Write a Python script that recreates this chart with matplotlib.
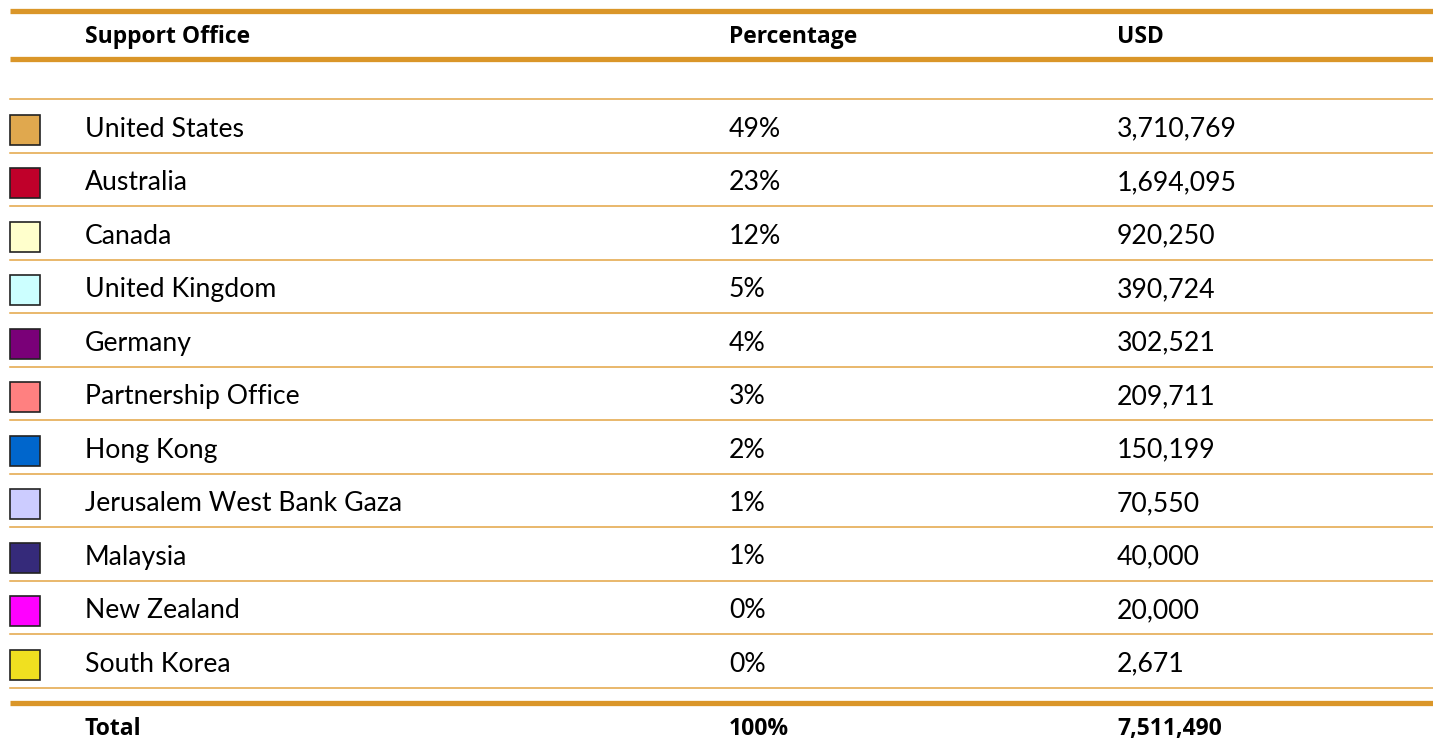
import matplotlib
matplotlib.use("Agg")
import matplotlib.pyplot as plt
from matplotlib.patches import Rectangle

plt.rcParams["font.family"] = ["Lato", "DejaVu Sans"]

# ------------------------------------------------------------------ data
offices = ["United States", "Australia", "Canada", "United Kingdom", "Germany",
           "Partnership Office", "Hong Kong", "Jerusalem West Bank Gaza",
           "Malaysia", "New Zealand", "South Korea"]
percentages = ["49%", "23%", "12%", "5%", "4%", "3%", "2%", "1%", "1%", "0%", "0%"]
usd = [3710769, 1694095, 920250, 390724, 302521, 209711, 150199, 70550,
       40000, 20000, 2671]
swatch_colors = ["#E0A84E", "#C0002A", "#FFFFCC", "#CCFFFF", "#7A0078",
                 "#FF8080", "#0066CC", "#CCCCFF", "#352A7A", "#FF00FF", "#F0E020"]
headers = ["Support Office", "Percentage", "USD"]
total_pct = "100%"
total_usd = 7511490

# ---------------------------------------------------------------- layout (px)
W, H = 1433, 748
col_x = [85, 729, 1117]
first_row_y = 129
row_h = 53.5
line_col = "#DA9629"
thin_col = "#E3A444"
body_fs = 19.2
head_fs = 16.5
head_font = ["Open Sans", "DejaVu Sans"]

fig = plt.figure(figsize=(W / 100, H / 100), dpi=100)
ax = fig.add_axes([0, 0, 1, 1])
ax.set_xlim(0, W)
ax.set_ylim(H, 0)
ax.axis("off")

# thick rules
for y in (10.5, 58.5, 703):
    ax.plot([10, W], [y, y], color=line_col, lw=3.8, solid_capstyle="butt")

# header
for x, h in zip(col_x, headers):
    ax.text(x, 37, h, fontsize=head_fs, fontweight="bold", family=head_font,
            ha="left", va="center")

# thin separator above first row
ax.plot([10, W], [99, 99], color=thin_col, lw=1.1)

for i, (name, pct, val, c) in enumerate(zip(offices, percentages, usd, swatch_colors)):
    yc = first_row_y + i * row_h
    ax.add_patch(Rectangle((10, yc - 14.5), 30, 30, facecolor=c,
                           edgecolor="#222222", lw=1.2))
    ax.text(col_x[0], yc, name, fontsize=body_fs, ha="left", va="center")
    ax.text(col_x[1], yc, pct, fontsize=body_fs, ha="left", va="center")
    ax.text(col_x[2], yc, f"{val:,}", fontsize=body_fs, ha="left", va="center")
    ysep = 99 + (i + 1) * row_h
    ax.plot([10, W], [ysep, ysep], color=thin_col, lw=1.1)

# total row
for x, t in zip(col_x, ["Total", total_pct, f"{total_usd:,}"]):
    ax.text(x, 729, t, fontsize=head_fs, fontweight="bold", family=head_font,
            ha="left", va="center")

fig.savefig("out.png", dpi=100)
plt.close(fig)
